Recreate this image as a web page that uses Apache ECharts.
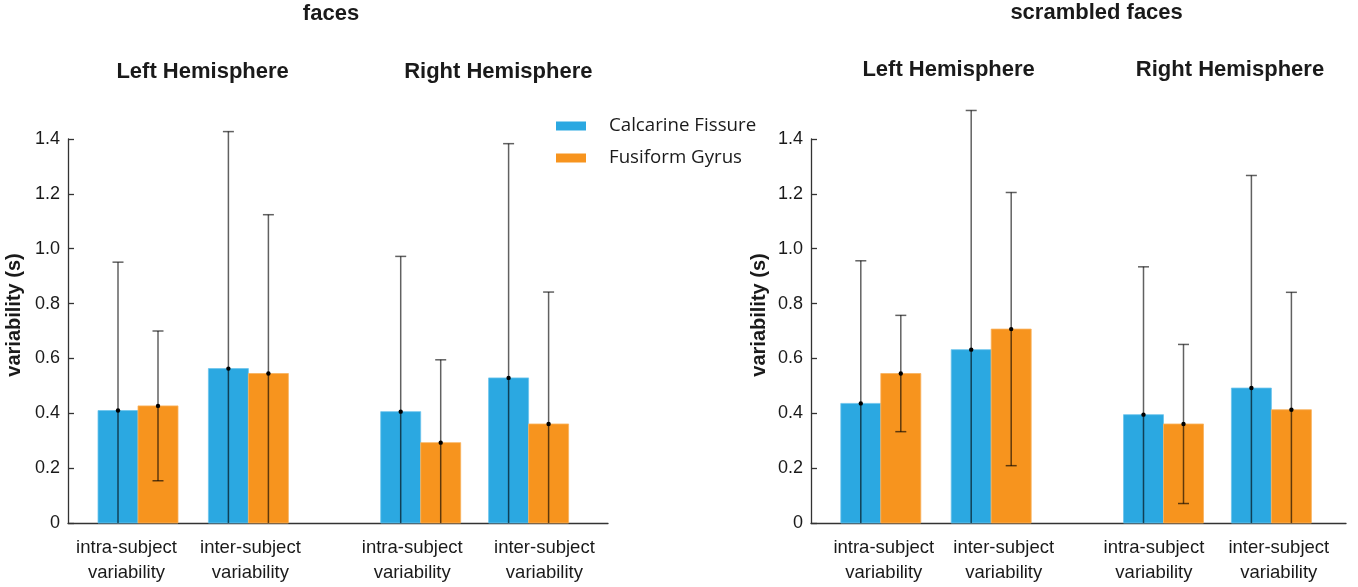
<!DOCTYPE html>
<html>
<head>
<meta charset="utf-8">
<script src="https://cdn.jsdelivr.net/npm/echarts@6/dist/echarts.min.js"></script>
<style>html,body{margin:0;padding:0;background:#fff}#c{width:1358px;height:587px}</style>
</head>
<body>
<div id="c"></div>
<script>
// ---- data ----
const categories = ['intra-subject\nvariability', 'inter-subject\nvariability', 'intra-subject\nvariability', 'inter-subject\nvariability'];
const seriesNames = ['Calcarine Fissure', 'Fusiform Gyrus'];
const yTicks = [0, 0.2, 0.4, 0.6, 0.8, 1.0, 1.2, 1.4];
// faces
const facesCalcMean = [0.410, 0.563, 0.406, 0.529];
const facesCalcSD   = [0.541, 0.864, 0.566, 0.854];
const facesFusiMean = [0.427, 0.545, 0.293, 0.361];
const facesFusiSD   = [0.273, 0.579, 0.302, 0.481];
// scrambled faces
const scrCalcMean = [0.436, 0.632, 0.395, 0.492];
const scrCalcSD   = [0.520, 0.872, 0.539, 0.775];
const scrFusiMean = [0.545, 0.707, 0.361, 0.413];
const scrFusiSD   = [0.212, 0.498, 0.290, 0.428];

// ---- layout ----
const groupPos = [0, 1.104, 2.827, 3.906];           // category slots on x (gap between hemispheres)
const labelPosLeft = [-0.115, 1.124, 2.742, 4.064];  // where the tick labels sit
const labelPosRight = [0.03, 1.229, 2.731, 3.98];
const BAR_W = 0.40;
const BLUE = '#2BA8E1', ORANGE = '#F7941E';
const TXT = '#1a1a1a';

function mk(means, sds) { return means.map((m, i) => [groupPos[i], m, sds[i]]); }

function render(side) {
  return function (params, api) {
    const x = api.value(0), m = api.value(1), sd = api.value(2);
    const w = api.size([BAR_W, 0])[0];
    const base = api.coord([x, 0]);
    const top = api.coord([x, m]);
    const xl = side < 0 ? base[0] - w : base[0];
    const cx = xl + w / 2;
    const hi = api.coord([x, m + sd]);
    const lowV = m - sd;
    const lo = api.coord([x, Math.max(0, lowV)]);
    const col = side < 0 ? BLUE : ORANGE;
    const eStyle = { stroke: 'rgba(0,0,0,0.62)', lineWidth: 1.5 };
    const capW = 11;
    const children = [
      { type: 'rect', shape: { x: xl, y: top[1], width: w, height: base[1] - top[1] },
        style: { fill: col, stroke: side < 0 ? '#6cc4ec' : '#f9b25e', lineWidth: 0.8 } },
      { type: 'line', shape: { x1: cx, y1: hi[1], x2: cx, y2: lo[1] }, style: eStyle },
      { type: 'line', shape: { x1: cx - capW / 2, y1: hi[1], x2: cx + capW / 2, y2: hi[1] }, style: eStyle },
      { type: 'circle', shape: { cx: cx, cy: top[1], r: 2.2 }, style: { fill: '#000' } }
    ];
    if (lowV > 0) {
      children.push({ type: 'line', shape: { x1: cx - capW / 2, y1: lo[1], x2: cx + capW / 2, y2: lo[1] }, style: eStyle });
    }
    return { type: 'group', children: children };
  };
}

function xAx(idx, min, max, labelPos) {
  return {
    type: 'value', gridIndex: idx, min: min, max: max,
    axisLine: { show: true, onZero: false, lineStyle: { color: '#333', width: 1.3 } },
    axisTick: { show: false }, splitLine: { show: false },
    axisLabel: {
      customValues: labelPos,
      formatter: function (v) {
        let k = 0, best = 1e9;
        labelPos.forEach((p, i) => { if (Math.abs(p - v) < best) { best = Math.abs(p - v); k = i; } });
        return categories[k];
      },
      fontFamily: 'Liberation Sans', fontSize: 18.5, lineHeight: 24.5, color: TXT, margin: 13
    }
  };
}
function yAx(idx, gap) {
  return {
    type: 'value', gridIndex: idx, min: 0, max: 1.4, interval: 0.2,
    name: 'variability (s)', nameLocation: 'middle', nameGap: gap,
    nameTextStyle: { fontFamily: 'Liberation Sans', fontWeight: 'bold', fontSize: 20, color: TXT, padding: [0, 0, 0, 32] },
    axisLine: { show: true, onZero: false, lineStyle: { color: '#333', width: 1.3 } },
    axisTick: { show: true, inside: true, length: 6, lineStyle: { color: '#333', width: 1.3 } },
    splitLine: { show: false },
    axisLabel: {
      formatter: v => (v === 0 ? '0' : v.toFixed(1)),
      fontFamily: 'Liberation Sans', fontSize: 18, color: TXT, margin: 8
    }
  };
}

function txt(s, x, y) {
  return { type: 'text', x: x, y: y,
    style: { text: s, align: 'center', verticalAlign: 'middle', font: 'bold 22px "Liberation Sans"', fill: TXT } };
}

const chart = echarts.init(document.getElementById('c'), null, { renderer: 'canvas' });
chart.setOption({
  animation: false,
  backgroundColor: '#fff',
  graphic: [
    txt('faces', 331, 13.5),
    txt('Left Hemisphere', 202.6, 71.5),
    txt('Right Hemisphere', 498.3, 71.5),
    txt('scrambled faces', 1096.6, 12.5),
    txt('Left Hemisphere', 948.6, 70),
    txt('Right Hemisphere', 1230, 70)
  ],
  legend: {
    data: seriesNames, orient: 'vertical', left: 556, top: 116, padding: 0,
    icon: 'rect', itemWidth: 30, itemHeight: 9, itemGap: 12,
    textStyle: { fontFamily: 'Open Sans', fontSize: 18.7, color: TXT, lineHeight: 20, padding: [0, 0, 0, 18] },
    selectedMode: false
  },
  grid: [
    { left: 68, width: 540, top: 139, height: 384 },
    { left: 811, width: 535, top: 139, height: 384 }
  ],
  xAxis: [xAx(0, -0.70, 4.70, labelPosLeft), xAx(1, -0.698, 4.652, labelPosRight)],
  yAxis: [yAx(0, 44), yAx(1, 42)],
  series: [
    { name: seriesNames[0], type: 'custom', xAxisIndex: 0, yAxisIndex: 0, clip: false,
      itemStyle: { color: BLUE }, renderItem: render(-1), data: mk(facesCalcMean, facesCalcSD), encode: { x: 0, y: 1 } },
    { name: seriesNames[1], type: 'custom', xAxisIndex: 0, yAxisIndex: 0, clip: false,
      itemStyle: { color: ORANGE }, renderItem: render(1), data: mk(facesFusiMean, facesFusiSD), encode: { x: 0, y: 1 } },
    { name: seriesNames[0], type: 'custom', xAxisIndex: 1, yAxisIndex: 1, clip: false,
      itemStyle: { color: BLUE }, renderItem: render(-1), data: mk(scrCalcMean, scrCalcSD), encode: { x: 0, y: 1 } },
    { name: seriesNames[1], type: 'custom', xAxisIndex: 1, yAxisIndex: 1, clip: false,
      itemStyle: { color: ORANGE }, renderItem: render(1), data: mk(scrFusiMean, scrFusiSD), encode: { x: 0, y: 1 } }
  ]
});
</script>
</body>
</html>
